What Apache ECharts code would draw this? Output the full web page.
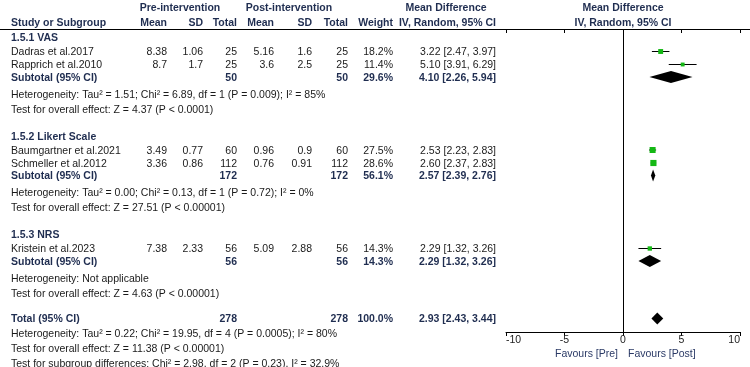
<!DOCTYPE html>
<html>
<head>
<meta charset="utf-8">
<script src="https://cdn.jsdelivr.net/npm/echarts@6/dist/echarts.min.js"></script>
<style>
  html, body { margin: 0; padding: 0; background: #fff; }
  #forest { width: 750px; height: 367px; }
</style>
</head>
<body>
<div id="forest"></div>
<script>
  // study level data
  var groupNames = ['1.5.1 VAS', '1.5.2 Likert Scale', '1.5.3 NRS']
  var studyGroup = [0, 0, 1, 1, 2]
  var studyNames = ['Dadras et al.2017', 'Rapprich et al.2010', 'Baumgartner et al.2021', 'Schmeller et al.2012', 'Kristein et al.2023']
  var preMean = ['8.38', '8.7', '3.49', '3.36', '7.38']
  var preSD = ['1.06', '1.7', '0.77', '0.86', '2.33']
  var preN = [25, 25, 60, 112, 56]
  var postMean = ['5.16', '3.6', '0.96', '0.76', '5.09']
  var postSD = ['1.6', '2.5', '0.9', '0.91', '2.88']
  var postN = [25, 25, 60, 112, 56]
  var weights = [18.2, 11.4, 27.5, 28.6, 14.3]
  var md = [3.22, 5.10, 2.53, 2.60, 2.29]
  var ciLow = [2.47, 3.91, 2.23, 2.37, 1.32]
  var ciHigh = [3.97, 6.29, 2.83, 2.83, 3.26]

  // subgroup totals
  var subN = [50, 172, 56]
  var subWeight = [29.6, 56.1, 14.3]
  var subMd = [4.10, 2.57, 2.29]
  var subLow = [2.26, 2.39, 1.32]
  var subHigh = [5.94, 2.76, 3.26]
  var subHet = [
    'Heterogeneity: Tau\u00b2 = 1.51; Chi\u00b2 = 6.89, df = 1 (P = 0.009); I\u00b2 = 85%',
    'Heterogeneity: Tau\u00b2 = 0.00; Chi\u00b2 = 0.13, df = 1 (P = 0.72); I\u00b2 = 0%',
    'Heterogeneity: Not applicable'
  ]
  var subTest = [
    'Test for overall effect: Z = 4.37 (P < 0.0001)',
    'Test for overall effect: Z = 27.51 (P < 0.00001)',
    'Test for overall effect: Z = 4.63 (P < 0.00001)'
  ]

  // overall
  var totalN = 278
  var totalWeight = 100.0
  var totalMd = 2.93
  var totalLow = 2.43
  var totalHigh = 3.44
  var totalNotes = [
    'Heterogeneity: Tau\u00b2 = 0.22; Chi\u00b2 = 19.95, df = 4 (P = 0.0005); I\u00b2 = 80%',
    'Test for overall effect: Z = 11.38 (P < 0.00001)',
    'Test for subgroup differences: Chi\u00b2 = 2.98, df = 2 (P = 0.23), I\u00b2 = 32.9%'
  ]

  var axisTicks = [-10, -5, 0, 5, 10]

  // ---- layout ----
  var FONT = '"Liberation Sans", Arial, sans-serif'
  var FS = '10.5px '
  var NAVY = '#1f2d50'
  var INK = '#1a1a1a'
  var TEXT_DY = 1
  var cols = {
    study: { x: 11, align: 'left' },
    preMean: { x: 167, align: 'right' },
    preSD: { x: 203, align: 'right' },
    preN: { x: 237, align: 'right' },
    postMean: { x: 274, align: 'right' },
    postSD: { x: 312, align: 'right' },
    postN: { x: 348, align: 'right' },
    weight: { x: 393, align: 'right' },
    ci: { x: 496, align: 'right' }
  }

  function fmt(v) { return v.toFixed(2) }
  function ciText(m, l, h) { return fmt(m) + ' [' + fmt(l) + ', ' + fmt(h) + ']' }

  var cells = []
  var marks = []
  var diamonds = []
  function cell(col, y, text, bold, color) {
    cells.push({ x: cols[col].x, y: y, text: String(text), align: cols[col].align, bold: !!bold, color: color || (bold ? NAVY : INK) })
  }

  // headers
  cells.push({ x: 180, y: 7, text: 'Pre-intervention', align: 'center', bold: true, color: NAVY })
  cells.push({ x: 289, y: 7, text: 'Post-intervention', align: 'center', bold: true, color: NAVY })
  cells.push({ x: 446, y: 7, text: 'Mean Difference', align: 'center', bold: true, color: NAVY })
  cell('study', 22, 'Study or Subgroup', true)
  cell('preMean', 22, 'Mean', true)
  cell('preSD', 22, 'SD', true)
  cell('preN', 22, 'Total', true)
  cell('postMean', 22, 'Mean', true)
  cell('postSD', 22, 'SD', true)
  cell('postN', 22, 'Total', true)
  cell('weight', 22, 'Weight', true)
  cell('ci', 22, 'IV, Random, 95% CI', true)

  var y = 37.5
  groupNames.forEach(function (g, gi) {
    cell('study', y, g, true)
    y += 14
    var first = true
    studyNames.forEach(function (name, i) {
      if (studyGroup[i] !== gi) return
      if (!first) y += 13
      first = false
      cell('study', y, name)
      cell('preMean', y, preMean[i])
      cell('preSD', y, preSD[i])
      cell('preN', y, preN[i])
      cell('postMean', y, postMean[i])
      cell('postSD', y, postSD[i])
      cell('postN', y, postN[i])
      cell('weight', y, weights[i].toFixed(1) + '%')
      cell('ci', y, ciText(md[i], ciLow[i], ciHigh[i]))
      marks.push({ y: y, md: md[i], lo: ciLow[i], hi: ciHigh[i], w: weights[i] })
    })
    y += 12.5
    cell('study', y, 'Subtotal (95% CI)', true)
    cell('preN', y, subN[gi], true)
    cell('postN', y, subN[gi], true)
    cell('weight', y, subWeight[gi].toFixed(1) + '%', true)
    cell('ci', y, ciText(subMd[gi], subLow[gi], subHigh[gi]), true)
    diamonds.push({ y: y, md: subMd[gi], lo: subLow[gi], hi: subHigh[gi] })
    y += 17
    cell('study', y, subHet[gi])
    y += 15
    cell('study', y, subTest[gi])
    y += 27
  })
  y -= 1.5
  cell('study', y, 'Total (95% CI)', true)
  cell('preN', y, totalN, true)
  cell('postN', y, totalN, true)
  cell('weight', y, totalWeight.toFixed(1) + '%', true)
  cell('ci', y, ciText(totalMd, totalLow, totalHigh), true)
  diamonds.push({ y: y, md: totalMd, lo: totalLow, hi: totalHigh })
  totalNotes.forEach(function (t) {
    y += 15
    cell('study', y, t)
  })

  var plotCells = [
    { x: 0, y: 7, text: 'Mean Difference', align: 'center', dx: 0 },
    { x: 0, y: 22, text: 'IV, Random, 95% CI', align: 'center', dx: 0 },
    { x: 0, y: 353, text: 'Favours [Pre]', align: 'right', dx: -5 },
    { x: 0, y: 353, text: 'Favours [Post]', align: 'left', dx: 5 }
  ]

  var chart = echarts.init(document.getElementById('forest'), null, { renderer: 'canvas' })

  var yRange = { min: 29, max: 332 }

  var option = {
    animation: false,
    backgroundColor: '#fff',
    grid: [
      { left: 0, right: 0, top: 29, bottom: 35 },
      { left: 506, right: 10, top: 29, bottom: 35 }
    ],
    xAxis: [
      {
        gridIndex: 0, type: 'value', min: 0, max: 750, position: 'top',
        axisLine: { show: true, lineStyle: { color: '#000', width: 1 } },
        axisTick: { show: false }, axisLabel: { show: false }, splitLine: { show: false }
      },
      {
        gridIndex: 1, type: 'value', min: axisTicks[0], max: axisTicks[axisTicks.length - 1], interval: 5,
        axisLine: { show: true, onZero: false, lineStyle: { color: '#000', width: 1 } },
        axisTick: { show: true, length: 4, lineStyle: { color: '#000' } },
        axisLabel: {
          show: true, color: '#222', fontSize: 10.5, fontFamily: FONT, margin: 3,
          alignMinLabel: 'left', alignMaxLabel: 'right'
        },
        splitLine: { show: false }
      },
      {
        gridIndex: 1, type: 'value', min: axisTicks[0], max: axisTicks[axisTicks.length - 1], interval: 5,
        axisLine: { show: false },
        axisTick: { show: true, inside: true, length: 4, lineStyle: { color: '#000' } },
        axisLabel: { show: false }, splitLine: { show: false }
      }
    ],
    yAxis: [
      { gridIndex: 0, type: 'value', inverse: true, min: yRange.min, max: yRange.max, show: false },
      { gridIndex: 1, type: 'value', inverse: true, min: yRange.min, max: yRange.max, show: false }
    ],
    series: [
      {
        type: 'custom',
        name: 'table',
        xAxisIndex: 0, yAxisIndex: 0,
        data: cells.map(function (c) { return [c.x, c.y] }),
        renderItem: function (params, api) {
          var c = cells[params.dataIndex]
          var p = api.coord([c.x, c.y])
          return {
            type: 'text',
            style: {
              x: p[0], y: p[1] + TEXT_DY, text: c.text,
              align: c.align, verticalAlign: 'middle',
              fill: c.color,
              font: (c.bold ? 'bold ' : '') + FS + FONT
            }
          }
        }
      },
      {
        type: 'custom',
        name: 'plotText',
        xAxisIndex: 1, yAxisIndex: 1,
        data: plotCells.map(function (c) { return [c.x, c.y] }),
        renderItem: function (params, api) {
          var c = plotCells[params.dataIndex]
          var p = api.coord([c.x, c.y])
          var bold = params.dataIndex < 2
          return {
            type: 'text',
            style: {
              x: p[0] + c.dx, y: p[1] + TEXT_DY, text: c.text,
              align: c.align, verticalAlign: 'middle',
              fill: bold ? NAVY : '#2b3a66',
              font: (bold ? 'bold ' : '') + FS + FONT
            }
          }
        }
      },
      {
        type: 'custom',
        name: 'studies',
        xAxisIndex: 1, yAxisIndex: 1,
        data: marks.map(function (m) { return [m.md, m.y] }),
        renderItem: function (params, api) {
          var m = marks[params.dataIndex]
          var a = api.coord([m.lo, m.y])
          var b = api.coord([m.hi, m.y])
          var c = api.coord([m.md, m.y])
          var s = 1.15 * Math.sqrt(m.w)
          return {
            type: 'group',
            children: [
              { type: 'line', shape: { x1: a[0], y1: a[1], x2: b[0], y2: b[1] }, style: { stroke: '#000', lineWidth: 1 } },
              { type: 'rect', shape: { x: c[0] - s / 2, y: c[1] - s / 2, width: s, height: s }, style: { fill: '#14b814' } }
            ]
          }
        },
        markLine: {
          silent: true, symbol: 'none', label: { show: false },
          lineStyle: { color: '#000', width: 1, type: 'solid' },
          data: [{ xAxis: 0 }]
        }
      },
      {
        type: 'custom',
        name: 'pooled',
        xAxisIndex: 1, yAxisIndex: 1,
        data: diamonds.map(function (d) { return [d.md, d.y] }),
        renderItem: function (params, api) {
          var d = diamonds[params.dataIndex]
          var a = api.coord([d.lo, d.y])
          var b = api.coord([d.hi, d.y])
          var c = api.coord([d.md, d.y])
          var h = 6
          return {
            type: 'polygon',
            shape: { points: [[a[0], a[1]], [c[0], c[1] - h], [b[0], b[1]], [c[0], c[1] + h]] },
            style: { fill: '#000' }
          }
        }
      }
    ]
  }

  chart.setOption(option)
</script>
</body>
</html>
